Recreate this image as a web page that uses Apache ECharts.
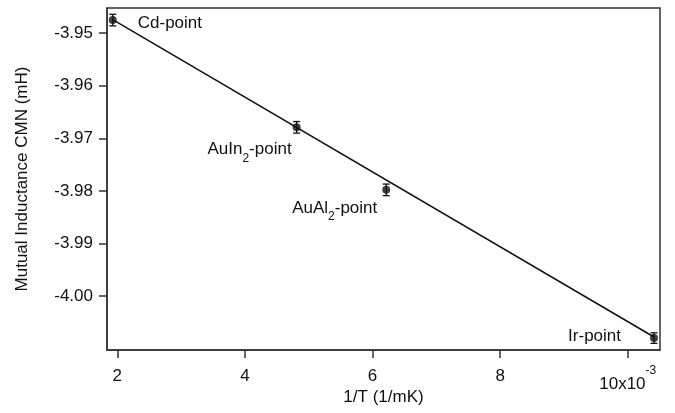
<!DOCTYPE html>
<html>
<head>
<meta charset="utf-8">
<script src="https://cdn.jsdelivr.net/npm/echarts@6/dist/echarts.min.js"></script>
<style>
  html, body { margin: 0; padding: 0; background: #fff; }
  #chart { width: 675px; height: 413px; }
</style>
</head>
<body>
<div id="chart"></div>
<script>
// Calibration fixed points: inverse temperature (x 10^-3 1/mK) and CMN mutual inductance (mH)
const pointNames = ['Cd', 'AuIn2', 'AuAl2', 'Ir'];
const invTemp = [1.928, 4.81, 6.215, 10.412];
const inductance = [-3.9475, -3.9679, -3.9798, -4.0080];
const inductanceErr = [0.0011, 0.0011, 0.0011, 0.0010];

// Straight-line fit drawn between its two end points
const fitX = [1.928, 10.412];
const fitY = [-3.9474, -4.0078];

// Tick labels
const xTicks = [2, 4, 6, 8, 10];
const yTicks = [-4.00, -3.99, -3.98, -3.97, -3.96, -3.95];

const FONT = '"Liberation Sans", Arial, Helvetica, sans-serif';
const TEXT = '#111';
const FS = 17;

const rich = {
  n: { fontSize: FS, fontFamily: FONT, color: TEXT, lineHeight: 22 },
  low: { fontSize: FS, fontFamily: FONT, color: TEXT, lineHeight: 27.5, verticalAlign: 'bottom' },
  sub: { fontSize: 12, fontFamily: FONT, color: TEXT, lineHeight: 22, verticalAlign: 'bottom', padding: [0, 0, -4, 0] },
  sup: { fontSize: 12, fontFamily: FONT, color: TEXT, lineHeight: 22, verticalAlign: 'top' }
};

// Point labels and where each sits relative to its marker
const pointLabels = [
  { text: '{n|Cd-point}', position: 'right', offset: [16, 3] },
  { text: '{n|AuIn}{sub|2}{n|-point}', position: 'left', offset: [4, 22] },
  { text: '{n|AuAl}{sub|2}{n|-point}', position: 'left', offset: [0, 18] },
  { text: '{n|Ir-point}', position: 'left', offset: [-24, -2] }
];

const pointData = invTemp.map((x, i) => ({
  name: pointNames[i],
  value: [x, inductance[i]],
  label: {
    show: true,
    position: pointLabels[i].position,
    offset: pointLabels[i].offset,
    formatter: pointLabels[i].text,
    color: TEXT,
    opacity: 1,
    rich: rich
  }
}));

const errData = invTemp.map((x, i) => [x, inductance[i], inductanceErr[i]]);
const fitData = fitX.map((x, i) => [x, fitY[i]]);

const chart = echarts.init(document.getElementById('chart'), null, { renderer: 'canvas' });

chart.setOption({
  animation: false,
  backgroundColor: '#fff',
  grid: {
    left: 107, right: 15, top: 8, bottom: 63,
    containLabel: false,
    outerBoundsMode: 'none',
    show: true, borderColor: '#333', borderWidth: 1.5, backgroundColor: 'transparent'
  },
  xAxis: {
    type: 'value',
    min: 1.838,
    max: 10.506,
    name: '1/T (1/mK)',
    nameLocation: 'middle',
    nameGap: 39,
    nameMoveOverlap: false,
    nameTextStyle: { fontSize: FS, fontFamily: FONT, color: TEXT },
    axisLine: { show: true, lineStyle: { color: '#333', width: 1.5 } },
    axisTick: { show: true, length: 8, inside: false, customValues: xTicks, lineStyle: { color: '#333', width: 1.5 } },
    axisLabel: {
      customValues: xTicks,
      margin: 15,
      fontSize: FS, fontFamily: FONT, color: TEXT,
      formatter: v => (Math.abs(v - 10) < 1e-9 ? '{low|10x10}{sup|-3}' : '{n|' + v + '}'),
      rich: rich
    },
    splitLine: { show: false }
  },
  yAxis: {
    type: 'value',
    min: -4.01027,
    max: -3.9452,
    name: 'Mutual Inductance CMN (mH)',
    nameLocation: 'middle',
    nameGap: 76,
    nameMoveOverlap: false,
    nameTextStyle: { fontSize: FS, fontFamily: FONT, color: TEXT },
    axisLine: { show: true, lineStyle: { color: '#333', width: 1.5 } },
    axisTick: { show: true, length: 8, inside: false, customValues: yTicks, lineStyle: { color: '#333', width: 1.5 } },
    axisLabel: {
      customValues: yTicks,
      margin: 14,
      fontSize: FS, fontFamily: FONT, color: TEXT,
      formatter: v => v.toFixed(2)
    },
    splitLine: { show: false }
  },
  series: [
    {
      name: 'fit',
      type: 'line',
      data: fitData,
      symbol: 'none',
      lineStyle: { color: '#111', width: 1.5 },
      z: 2
    },
    {
      name: 'error',
      type: 'custom',
      data: errData,
      z: 3,
      renderItem: function (params, api) {
        const x = api.value(0), y = api.value(1), e = api.value(2);
        const top = api.coord([x, y + e]);
        const bot = api.coord([x, y - e]);
        const cap = 3.5;
        const style = { stroke: '#111', lineWidth: 1.3 };
        return {
          type: 'group',
          children: [
            { type: 'line', shape: { x1: top[0], y1: top[1], x2: bot[0], y2: bot[1] }, style: style },
            { type: 'line', shape: { x1: top[0] - cap, y1: top[1], x2: top[0] + cap, y2: top[1] }, style: style },
            { type: 'line', shape: { x1: bot[0] - cap, y1: bot[1], x2: bot[0] + cap, y2: bot[1] }, style: style }
          ]
        };
      }
    },
    {
      name: 'points',
      type: 'scatter',
      data: pointData,
      symbol: 'circle',
      symbolSize: 8,
      itemStyle: { color: '#111' },
      z: 4
    }
  ]
});
</script>
</body>
</html>
